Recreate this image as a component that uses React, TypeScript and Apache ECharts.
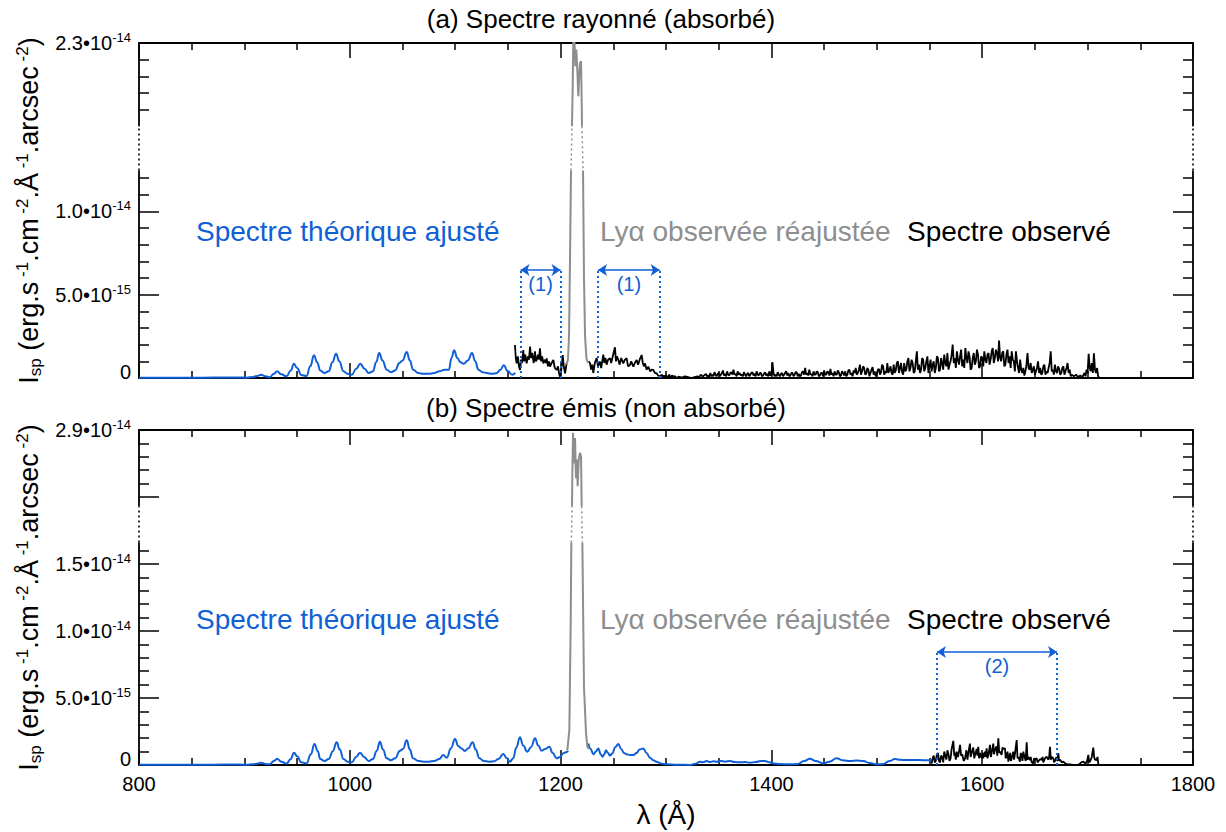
import React, { useEffect, useRef } from "react";
import * as echarts from "echarts";

type Pt = [number, number];
type Brk = { lo: number; hi: number; gap: number; max: number };

// wavelength (Å) axis
const X_MIN = 800;
const X_MAX = 1800;
const X_STEP = 200;

// intensities are in units of 1e-15 erg.s-1.cm-2.Å-1.arcsec-2
const TOP_BREAK: Brk = { lo: 12.45, hi: 18, gap: 2.65, max: 23 };
const BOT_BREAK: Brk = { lo: 16.6, hi: 23.3, gap: 2.7, max: 29 };

const TOP_LABEL_VALUES = [0, 5, 10, 23];
const TOP_LABEL_TEXT = ["{z|0}", "5.0•10{sup|-15}", "1.0•10{sup|-14}", "2.3•10{sup|-14}"];
const TOP_MAJOR_TICKS = [0, 5, 10, 23];
const TOP_MINOR_TICKS = [1, 2, 3, 4, 6, 7, 8, 9, 11, 12, 19, 20, 21, 22];

const BOT_LABEL_VALUES = [0, 5, 10, 15, 29];
const BOT_LABEL_TEXT = ["{z|0}", "5.0•10{sup|-15}", "1.0•10{sup|-14}", "1.5•10{sup|-14}", "2.9•10{sup|-14}"];
const BOT_MAJOR_TICKS = [0, 5, 10, 15, 24, 29];
const BOT_MINOR_TICKS = [1, 2, 3, 4, 6, 7, 8, 9, 11, 12, 13, 14, 16, 25, 26, 27, 28];

// fitting windows (Å) and arrow level
const TOP_WINDOWS: Pt[] = [[1162, 1200], [1235.5, 1294]];
const TOP_WINDOW_LABELS = ["(1)", "(1)"];
const TOP_WINDOW_LEVEL = 6.48;
const BOT_WINDOWS: Pt[] = [[1557, 1671]];
const BOT_WINDOW_LABELS = ["(2)"];
const BOT_WINDOW_LEVEL = 8.43;

// (a) absorbed spectrum
const theoTop: Pt[] = [
  [800, 0.02], [820, 0.02], [840, 0.02], [860, 0.02], [880, 0.03], [895, 0.03], [902, 0.02], [908, 0.06],
  [912, 0.12], [916, 0.2], [920, 0.1], [924, 0.05], [928, 0.25], [931, 0.4], [935, 0.22], [940, 0.1],
  [944, 0.45], [947, 0.86], [950, 0.6], [954, 0.18], [959, 0.12], [962.5, 0.7], [966, 1.36], [969, 0.95],
  [972, 0.45], [976, 0.3], [980, 0.4], [983.5, 0.95], [987, 1.46], [990, 1.0], [994, 0.4], [998, 0.25],
  [1002, 0.2], [1006, 0.55], [1010, 0.86], [1014, 0.55], [1018, 0.3], [1022, 0.4], [1025, 0.95], [1028, 1.5],
  [1031, 1.05], [1035, 0.5], [1039, 0.35], [1043, 0.45], [1047, 0.9], [1050, 1.05], [1054, 1.56], [1057, 1.05],
  [1060, 0.5], [1065, 0.3], [1070, 0.25], [1075, 0.25], [1080, 0.3], [1085, 0.4], [1090, 0.5], [1094, 0.5],
  [1096.5, 1.2], [1099, 1.66], [1102, 1.2], [1105, 0.95], [1108, 0.85], [1112, 1.05], [1116, 1.5], [1119, 1.0],
  [1122, 0.5], [1126, 0.35], [1130, 0.3], [1135, 0.25], [1139, 0.28], [1143, 0.5], [1146, 0.76], [1150, 0.4],
  [1154, 0.2], [1157, 0.3],
];
const obsTopLeft: Pt[] = [
  [1156.7, 1.98], [1157.5, 1.2], [1158.3, 0.88], [1159.5, 1.3], [1160.5, 0.7], [1161.5, 0.48], [1162.5, 1.1],
  [1163.5, 0.9], [1164.6, 1.68], [1165.5, 1.0], [1166.5, 1.4], [1167.8, 0.88], [1169, 1.3], [1170, 1.1],
  [1171, 1.88], [1172, 1.2], [1173, 1.5], [1174.5, 0.9], [1175.7, 1.6], [1176.5, 1.0], [1177.3, 1.08],
  [1178.5, 1.4], [1179.5, 1.1], [1180.4, 1.78], [1181.5, 1.0], [1182.5, 1.3], [1183.6, 0.88], [1185, 1.1],
  [1186, 0.9], [1186.8, 1.18], [1188, 0.7], [1189, 1.0], [1190, 0.68], [1191.5, 0.9], [1193.1, 1.08],
  [1194.5, 0.6], [1196.3, 0.48], [1197.5, 0.7], [1198.5, 0.3], [1199.4, 0.08], [1200.5, 0.4], [1201.2, 0.9],
  [1202, 1.38], [1203, 0.7], [1204.2, 0.28], [1205, 0.6], [1205.7, 0.88],
];
const lyaTop: Pt[] = [
  [1205.5, 0.8], [1207, 1.1], [1208, 2.5], [1208.9, 7], [1209.9, 12.5], [1210.8, 18], [1211.5, 20.4],
  [1212.1, 23.6], [1213, 23.4], [1214, 21.6], [1214.9, 22.6], [1215.9, 21.3], [1216.8, 19.8], [1217.8, 21.2],
  [1218.4, 21.8], [1219.4, 21.9], [1220, 19.5], [1220.3, 18], [1221.3, 12.3], [1222.2, 6], [1223.2, 2.5],
  [1224.5, 1.2], [1226, 0.9],
];
const obsTopRight: Pt[] = [
  [1226.5, 1.0], [1227.9, 0.9], [1229, 0.5], [1230, 0.8], [1231, 0.3], [1232.5, 0.9], [1234.2, 1.2], [1235.5, 0.7],
  [1237.4, 0.98], [1238.5, 0.6], [1240.5, 1.4], [1241.5, 0.9], [1242.5, 1.2], [1243.7, 0.8], [1245, 1.1],
  [1246.9, 1.18], [1248, 0.9], [1249.5, 1.3], [1251.6, 1.84], [1252.5, 1.0], [1253.5, 1.3], [1254.8, 1.08],
  [1256, 0.8], [1257.5, 1.2], [1259.5, 0.88], [1261, 1.1], [1262.7, 1.18], [1264, 0.7], [1265.8, 0.78],
  [1267, 1.0], [1269, 0.68], [1270.5, 0.9], [1272.2, 1.08], [1273.5, 0.8], [1275, 1.1], [1276.9, 1.38],
  [1278, 0.9], [1279, 0.7], [1280.1, 0.88], [1281.5, 0.5], [1283.2, 0.68], [1285, 0.4], [1286.5, 0.5],
  [1288, 0.48], [1289.5, 0.3], [1291.1, 0.28], [1292.5, 0.15], [1294.3, 0.1],
  [1296, 0.2], [1297, 0.05], [1298, 0.15], [1299, 0.02], [1300, 0.15], [1301, 0.05], [1302, 0.1], [1303, 0.2],
  [1304, 0.05], [1306, 0.15], [1307, 0.02], [1308, 0.12], [1310, 0.0], [1312, 0.08], [1315, 0.02], [1318, 0.1],
  [1321, 0.05], [1324, 0.0], [1327, 0.05], [1330, 0.1], [1331, 0.02], [1333, 0.2], [1335, 0.08], [1336, 0.15],
  [1338, 0.25], [1339, 0.1], [1340, 0.15], [1341, 0.05], [1342, 0.3], [1343, 0.1], [1344, 0.2], [1345, 0.1],
  [1346, 0.35], [1347, 0.2], [1348, 0.1], [1349, 0.25], [1350, 0.3], [1351, 0.1], [1352, 0.2], [1353, 0.3],
  [1354, 0.45], [1355, 0.15], [1356, 0.25], [1357, 0.1], [1358, 0.4], [1359, 0.2], [1360, 0.15], [1361, 0.3],
  [1362, 0.35], [1363, 0.2], [1364, 0.5], [1365, 0.2], [1366, 0.25], [1367, 0.1], [1368, 0.4], [1369, 0.2],
  [1370, 0.3], [1371, 0.15], [1372, 0.2], [1373, 0.1], [1374, 0.35], [1375, 0.2], [1376, 0.1], [1377, 0.25],
  [1378, 0.3], [1379, 0.1], [1380, 0.2], [1381, 0.3], [1382, 0.35], [1383, 0.15], [1384, 0.25], [1385, 0.1],
  [1386, 0.4], [1387, 0.2], [1388, 0.15], [1389, 0.3], [1390, 0.3], [1391, 0.1], [1392, 0.15], [1393, 0.25],
  [1394, 0.35], [1395, 0.15], [1396, 0.25], [1397, 0.1], [1398, 0.4], [1399, 0.15], [1400, 0.2], [1401, 0.95],
  [1402, 0.3], [1403, 0.1], [1404, 0.2], [1405, 0.1], [1406, 0.35], [1407, 0.2], [1408, 0.1], [1409, 0.25],
  [1410, 0.3], [1411, 0.1], [1412, 0.2], [1413, 0.3], [1414, 0.4], [1415, 0.15], [1416, 0.3], [1417, 0.1],
  [1418, 0.15], [1419, 0.3], [1420, 0.3], [1421, 0.1], [1422, 0.2], [1423, 0.35], [1424, 0.35], [1425, 0.1],
  [1426, 0.25], [1427, 0.1], [1428, 0.15], [1429, 0.35], [1430, 0.4], [1431, 0.2], [1432, 0.6], [1433, 0.2],
  [1434, 0.3], [1435, 0.15], [1436, 0.5], [1437, 0.2], [1438, 0.25], [1439, 0.1], [1440, 0.4], [1441, 0.2],
  [1442, 0.2], [1443, 0.4], [1444, 0.35], [1445, 0.1], [1446, 0.15], [1447, 0.3], [1448, 0.3], [1449, 0.1],
  [1450, 0.45], [1451, 0.2], [1452, 0.2], [1453, 0.4], [1454, 0.35], [1455, 0.15], [1456, 0.55], [1457, 0.2],
  [1458, 0.3], [1459, 0.1], [1460, 0.4], [1461, 0.2], [1462, 0.2], [1463, 0.45], [1464, 0.35], [1465, 0.1],
  [1466, 0.15], [1467, 0.4], [1468, 0.3], [1469, 0.15], [1470, 0.4], [1471, 0.1], [1472, 0.2], [1473, 0.45],
  [1474, 0.5], [1475, 0.2], [1476, 0.3], [1477, 0.1], [1478, 0.45], [1479, 0.3], [1480, 0.6], [1481, 0.2],
  [1482, 0.3], [1483, 0.5], [1484, 0.8], [1485, 0.2], [1486, 0.4], [1487, 0.7], [1488, 0.6], [1489, 0.2],
  [1490, 0.25], [1491, 0.6], [1492, 0.5], [1493, 0.1], [1494, 0.3], [1495, 0.5], [1496, 0.65], [1497, 0.2],
  [1498, 0.4], [1499, 0.1], [1500, 0.2], [1501, 0.5], [1502, 0.55], [1503, 0.2], [1504, 0.35], [1505, 0.8],
  [1506, 0.7], [1507, 0.2], [1508, 0.4], [1509, 0.3], [1510, 0.9], [1511, 0.3], [1512, 0.5], [1513, 0.7],
  [1514, 0.3], [1515, 0.2], [1516, 0.8], [1517, 0.3], [1518, 0.45], [1519, 0.9], [1520, 1.0], [1521, 0.3],
  [1522, 0.6], [1523, 0.9], [1524, 0.35], [1525, 0.2], [1526, 0.9], [1527, 0.4], [1528, 0.5], [1529, 1.0],
  [1530, 1.2], [1531, 0.4], [1532, 0.6], [1533, 1.1], [1534, 0.9], [1535, 0.3], [1536, 0.4], [1537, 1.0],
  [1538, 1.6], [1539, 0.5], [1540, 0.8], [1541, 0.3], [1542, 0.5], [1543, 1.2], [1544, 1.1], [1545, 0.4],
  [1546, 0.6], [1547, 1.0], [1548, 1.3], [1549, 0.3], [1550, 0.7], [1551, 1.1], [1552, 0.4], [1553, 0.8],
  [1554, 1.0], [1555, 0.3], [1556, 0.6], [1557, 1.3], [1558, 1.2], [1559, 0.4], [1560, 0.5], [1561, 1.2],
  [1562, 0.9], [1563, 0.5], [1564, 1.4], [1565, 0.9], [1566, 0.7], [1567, 1.5], [1568, 0.5], [1569, 0.8],
  [1570, 1.0], [1571, 1.4], [1572, 2.0], [1573, 0.9], [1574, 1.2], [1575, 0.6], [1576, 1.6], [1577, 1.1],
  [1578, 0.8], [1579, 1.3], [1580, 1.7], [1581, 0.7], [1582, 1.1], [1583, 0.6], [1584, 1.8], [1585, 1.2],
  [1586, 0.9], [1587, 1.6], [1588, 1.3], [1589, 0.5], [1590, 0.6], [1591, 1.2], [1592, 1.5], [1593, 0.8],
  [1594, 1.0], [1595, 1.7], [1596, 1.4], [1597, 0.6], [1598, 0.7], [1599, 1.3], [1600, 1.2], [1601, 0.7],
  [1602, 1.6], [1603, 1.1], [1604, 0.9], [1605, 1.4], [1606, 1.5], [1607, 0.8], [1608, 1.1], [1609, 1.6],
  [1610, 1.8], [1611, 0.9], [1612, 1.2], [1613, 1.7], [1614, 1.5], [1615, 1.0], [1616, 2.25], [1617, 1.2],
  [1618, 1.0], [1619, 1.5], [1620, 1.6], [1621, 0.7], [1622, 0.8], [1623, 1.4], [1624, 1.7], [1625, 0.9],
  [1626, 1.3], [1627, 0.6], [1628, 1.6], [1629, 1.1], [1630, 1.0], [1631, 0.4], [1632, 1.6], [1633, 1.0],
  [1634, 0.6], [1635, 0.3], [1636, 1.1], [1637, 0.5], [1638, 0.3], [1639, 0.6], [1640, 0.15], [1641, 0.4],
  [1642, 0.8], [1643, 1.5], [1644, 0.6], [1645, 0.5], [1646, 0.9], [1647, 0.3], [1648, 0.5], [1649, 0.7],
  [1650, 0.2], [1651, 0.4], [1652, 0.6], [1653, 1.0], [1654, 0.3], [1655, 0.6], [1656, 0.2], [1657, 0.3],
  [1658, 0.7], [1659, 0.8], [1660, 0.2], [1661, 0.4], [1662, 0.3], [1663, 0.6], [1664, 0.9], [1665, 1.6],
  [1666, 0.4], [1667, 0.5], [1668, 0.2], [1669, 0.8], [1670, 0.4], [1671, 0.3], [1672, 0.7], [1673, 0.55],
  [1674, 0.2], [1675, 0.3], [1676, 0.6], [1677, 0.7], [1678, 0.2], [1679, 0.4], [1680, 0.6], [1681, 0.9],
  [1682, 0.3], [1683, 0.5], [1684, 0.1], [1685, 0.2], [1687, 0.1], [1689, 0.2], [1691, 0.05], [1693, 0.15],
  [1695, 0.05], [1697, 0.3], [1698, 0.1], [1699, 0.5], [1700, 0.3], [1701, 1.45], [1702, 0.6], [1703, 0.4],
  [1704, 0.9], [1705, 0.3], [1706, 1.48], [1707, 0.5], [1708, 0.3], [1709, 0.6], [1710, 0.1], [1711, 0.05],
];

// (b) emitted (non absorbed) spectrum
const theoBotLeft: Pt[] = [
  [800, 0.02], [820, 0.02], [840, 0.02], [860, 0.02], [880, 0.03], [895, 0.03], [902, 0.02], [908, 0.06],
  [912, 0.1], [916, 0.17], [920, 0.08], [924, 0.05], [928, 0.3], [931, 0.47], [935, 0.25], [940, 0.1],
  [944, 0.45], [947, 0.92], [950, 0.65], [954, 0.2], [959, 0.12], [963, 0.8], [966.5, 1.56], [969.5, 1.05],
  [972, 0.45], [976, 0.3], [980, 0.45], [984, 1.05], [987.5, 1.7], [990.5, 1.15], [994, 0.45], [998, 0.25],
  [1002, 0.2], [1006, 0.6], [1009.7, 0.92], [1013.5, 0.6], [1018, 0.3], [1022, 0.45], [1025.5, 1.05],
  [1028.6, 1.74], [1031.5, 1.15], [1035, 0.5], [1039, 0.35], [1043, 0.5], [1047.6, 1.07], [1050.5, 1.2],
  [1054, 1.84], [1057, 1.15], [1060, 0.5], [1065, 0.3], [1070, 0.25], [1075, 0.25], [1080, 0.3], [1085, 0.45],
  [1088.7, 0.74], [1092, 0.55], [1096, 1.25], [1099.8, 1.94], [1103, 1.4], [1106.1, 1.24], [1109, 1.05],
  [1112.5, 1.25], [1116.5, 1.7], [1119.5, 1.15], [1123, 0.5], [1127, 0.3], [1132, 0.25], [1137, 0.28],
  [1141, 0.45], [1145.6, 0.82], [1149, 0.5], [1152, 0.25], [1155, 0.5], [1158, 1.3], [1161.4, 2.08],
  [1164.5, 1.45], [1168.4, 0.99], [1172, 1.35], [1175.7, 1.99], [1178.8, 1.45], [1182, 1.07], [1185.5, 1.2],
  [1189.3, 1.36], [1192.5, 0.9], [1196.2, 0.5], [1199.5, 0.6], [1202.6, 0.87], [1205, 0.95], [1207.3, 1.04],
];
const lyaBot: Pt[] = [
  [1206.4, 1.1], [1208.3, 2.6], [1209.6, 10.8], [1210.2, 16.7], [1210.8, 23.4], [1211, 24.5], [1211.1, 25.4],
  [1211.8, 28.8], [1212.7, 26.5], [1213.7, 28.4], [1214.6, 25.4], [1215.3, 26.8], [1216.2, 24.8],
  [1217.2, 26.8], [1218.4, 27.3], [1219.4, 27.0], [1220, 23.3], [1220.6, 16.8], [1222.2, 5.8], [1224.1, 2.4],
  [1225.3, 1.4], [1226.3, 1.2],
];
const theoBotRight: Pt[] = [
  [1226.3, 1.6], [1228.5, 1.2], [1231, 0.8], [1233.5, 1.0], [1235.8, 1.24], [1238, 0.8], [1239.9, 0.62],
  [1241.5, 0.8], [1243, 1.1], [1245, 0.9], [1246.8, 0.7], [1249, 0.85], [1252, 1.35], [1254.7, 1.56],
  [1257.5, 1.2], [1260, 0.9], [1262.7, 0.8], [1266, 0.75], [1269, 0.74], [1272, 0.9], [1275, 1.15],
  [1278.5, 1.24], [1281.5, 0.9], [1284.8, 0.55], [1288, 0.35], [1291.1, 0.25], [1295, 0.12], [1300.6, 0.05],
  [1310, 0.02], [1322.7, 0.0], [1328, 0.1], [1332.2, 0.25], [1335, 0.2], [1338.6, 0.3], [1342, 0.22],
  [1345, 0.28], [1348, 0.25], [1352, 0.3], [1356, 0.25], [1360.7, 0.3], [1365, 0.22], [1370.2, 0.2],
  [1375, 0.22], [1379.7, 0.17], [1385, 0.22], [1390, 0.3], [1393.9, 0.3], [1398, 0.2], [1401.8, 0.12],
  [1408, 0.08], [1417.6, 0.05], [1425, 0.08], [1431, 0.3], [1436.6, 0.47], [1442, 0.3], [1449.2, 0.12],
  [1455, 0.25], [1461.9, 0.5], [1468, 0.35], [1474.6, 0.3], [1481, 0.33], [1487.2, 0.3], [1493, 0.15],
  [1499.9, 0.05], [1506.2, 0.07], [1512, 0.3], [1517.2, 0.45], [1521, 0.4], [1525.2, 0.37], [1531, 0.38],
  [1537.8, 0.37], [1544, 0.36], [1550.5, 0.35], [1552, 0.35],
];
const obsBot: Pt[] = [
  [1552, 0.1], [1553, 0.5], [1554, 0.7], [1555, 0.2], [1556, 0.3], [1557, 0.8], [1558, 0.9], [1559, 0.3],
  [1560, 0.2], [1561, 0.7], [1562, 0.6], [1563, 0.2], [1564, 1.0], [1565, 0.7], [1566, 0.4], [1567, 1.1],
  [1568, 0.8], [1569, 0.3], [1570, 0.5], [1571, 1.2], [1572.6, 1.8], [1573.5, 0.7], [1574, 0.9], [1575, 0.4],
  [1575.8, 1.0], [1577, 0.6], [1578, 1.0], [1579, 1.5], [1580, 0.7], [1581, 0.8], [1582.5, 0.3], [1583.7, 0.5],
  [1585, 1.1], [1586, 0.4], [1586.5, 0.7], [1587.5, 1.2], [1588.4, 1.6], [1589, 0.6], [1590, 0.9], [1591.5, 1.3],
  [1592.5, 0.5], [1593.2, 0.75], [1594.8, 1.2], [1595.5, 0.7], [1596.3, 1.36], [1597, 0.5], [1598, 0.9],
  [1599.5, 0.5], [1600.5, 0.9], [1601, 0.5], [1602.5, 1.0], [1603.2, 0.6], [1604.2, 1.25], [1605, 0.5],
  [1606, 0.8], [1607.4, 1.5], [1608.2, 0.6], [1609, 0.9], [1610.5, 1.6], [1611.2, 0.8], [1612, 1.1],
  [1613.5, 1.4], [1614.3, 0.7], [1615.3, 2.0], [1616.2, 0.9], [1617, 1.0], [1618.4, 0.75], [1619.2, 1.3],
  [1620, 1.2], [1621.6, 1.25], [1622.3, 0.5], [1623, 0.6], [1624, 1.0], [1624.8, 0.25], [1625.7, 0.6],
  [1626.5, 0.9], [1627.2, 0.3], [1628, 0.5], [1629.5, 1.0], [1630.2, 0.4], [1631, 0.8], [1632.7, 1.86],
  [1633.5, 0.5], [1634.3, 0.6], [1635.8, 0.25], [1636.6, 0.9], [1637.5, 0.7], [1638.2, 0.3], [1639, 1.0],
  [1640.5, 0.5], [1641.3, 0.3], [1642.2, 1.7], [1643, 0.4], [1643.8, 0.6], [1645.3, 0.37], [1646, 0.6],
  [1647, 0.2], [1648.5, 0.12], [1649.2, 0.5], [1650, 0.4], [1651.7, 0.5], [1652.5, 0.2], [1653.5, 0.3],
  [1655, 0.45], [1656.4, 0.37], [1657.2, 0.6], [1658, 0.2], [1659.5, 0.5], [1661.1, 0.62], [1662.7, 0.4],
  [1663.5, 0.6], [1664.3, 1.36], [1665.1, 0.4], [1665.9, 0.6], [1667.5, 0.5], [1668.2, 0.2], [1669, 0.3],
  [1670.5, 0.6], [1671.3, 0.3], [1672.2, 0.87], [1673, 0.3], [1674, 0.4], [1675.5, 0.2], [1677, 0.25],
  [1679, 0.1], [1681, 0.05], [1683.3, 0.05], [1686, 0.0], [1689.6, 0.0], [1692, 0.05], [1694, 0.2], [1696, 0.25],
  [1698, 0.1], [1699.5, 0.3], [1700.7, 0.75], [1701.5, 0.2], [1702.5, 0.3], [1704, 0.6], [1705.4, 1.3],
  [1706.2, 0.6], [1707, 0.4], [1708.6, 0.37], [1709.4, 0.6], [1710.2, 0.05],
];

const TITLES = ["(a) Spectre rayonné (absorbé)", "(b) Spectre émis (non absorbé)"];
const NOTE_THEO = "Spectre théorique ajusté";
const NOTE_LYA = "Lyα observée réajustée";
const NOTE_OBS = "Spectre observé";
const X_NAME = "λ (Å)";
const Y_NAME = "{m|I}{sub|sp}{m| (erg.s}{sup| -1}{m|.cm}{sup| -2}{m|.Å}{sup| -1}{m|.arcsec}{sup| -2}{m|)}";

const FONT = '"Liberation Sans", Arial, Helvetica, sans-serif';
const BLUE = "#0f5fd6";
const GRAY = "#8e8e8e";
const BLACK = "#000000";

const T = (v: number, b: Brk) =>
  v <= b.lo ? v : v >= b.hi ? v - (b.hi - b.lo) + b.gap : b.lo + ((v - b.lo) / (b.hi - b.lo)) * b.gap;

function splitBreak(pts: Pt[], b: Brk) {
  const solid: any[] = [];
  const dotted: any[] = [];
  let last: any[] | null = null;
  for (let i = 0; i < pts.length - 1; i++) {
    const [x0, v0] = pts[i];
    const [x1, v1] = pts[i + 1];
    const ts = [0, 1];
    [b.lo, b.hi].forEach((c) => {
      if ((v0 - c) * (v1 - c) < 0) ts.push((c - v0) / (v1 - v0));
    });
    ts.sort((a, c) => a - c);
    for (let k = 0; k < ts.length - 1; k++) {
      const ta = ts[k], tb = ts[k + 1];
      const xa = x0 + (x1 - x0) * ta, va = v0 + (v1 - v0) * ta;
      const xb = x0 + (x1 - x0) * tb, vb = v0 + (v1 - v0) * tb;
      const vm = (va + vb) / 2;
      const target = vm > b.lo && vm < b.hi ? dotted : solid;
      if (last && last !== target) last.push(["-", "-"]);
      target.push([xa, T(va, b)], [xb, T(vb, b)]);
      last = target;
    }
  }
  return { solid, dotted };
}

const tr = (pts: Pt[], b: Brk) => pts.map(([x, v]) => [x, T(v, b)]);

function windowMarks(wins: Pt[], labels: string[], level: number) {
  const data: any[] = [];
  wins.forEach(([a, c], i) => {
    [a, c].forEach((x) => {
      data.push([
        { coord: [x, 0], symbol: "none", lineStyle: { type: [2, 3], width: 2, color: BLUE } },
        { coord: [x, level], symbol: "none" },
      ]);
    });
    data.push([
      {
        coord: [a, level],
        symbol: "arrow",
        lineStyle: { type: "solid", width: 1.5, color: BLUE },
        label: {
          show: true,
          formatter: labels[i],
          position: "insideMiddleBottom",
          distance: 4,
          color: BLUE,
          fontSize: 20,
          fontFamily: FONT,
        },
      },
      { coord: [c, level], symbol: "arrow" },
    ]);
  });
  return {
    silent: true,
    animation: false,
    symbolSize: 9,
    label: { show: false },
    emphasis: { disabled: true },
    data,
  };
}

function xAxes(grid: number, labels: boolean) {
  const base = {
    type: "value",
    gridIndex: grid,
    min: X_MIN,
    max: X_MAX,
    interval: X_STEP,
    splitLine: { show: false },
    minorSplitLine: { show: false },
    axisTick: { show: true, inside: true, length: 15, lineStyle: { color: BLACK, width: 1.5 } },
    minorTick: { show: true, splitNumber: 4, length: 7, lineStyle: { color: BLACK, width: 1.5 } },
    axisLine: { show: true, onZero: false, lineStyle: { color: BLACK, width: 1.8 } },
  };
  return [
    {
      ...base,
      position: "bottom",
      axisLabel: {
        show: labels,
        fontSize: 20,
        color: BLACK,
        fontFamily: FONT,
        margin: 9,
        formatter: (v: number) => String(v),
      },
      ...(labels
        ? {
            name: X_NAME,
            nameLocation: "middle",
            nameGap: 35,
            nameTextStyle: { fontSize: 28, color: BLACK, fontFamily: FONT },
          }
        : {}),
    },
    { ...base, position: "top", axisLabel: { show: false } },
  ];
}

function yAxes(grid: number, b: Brk, labelVals: number[], labelTexts: string[], majors: number[], minors: number[]) {
  const maxD = T(b.max, b);
  const tickStyle = { color: BLACK, width: 1.5 };
  const base = {
    type: "value",
    gridIndex: grid,
    min: 0,
    max: maxD,
    splitLine: { show: false },
    axisLine: { show: false, onZero: false },
    axisLabel: { show: false },
  };
  const fmt = (val: number) => {
    const i = labelVals.findIndex((v) => Math.abs(T(v, b) - val) < 1e-6);
    return i >= 0 ? labelTexts[i] : "";
  };
  const major = (pos: string) => ({
    ...base,
    position: pos,
    axisLine: { show: true, onZero: false, lineStyle: { color: BLACK, width: 1.8 } },
    axisTick: { show: true, inside: true, length: 20, lineStyle: tickStyle, customValues: majors.map((v) => T(v, b)) },
  });
  const minor = (pos: string) => ({
    ...base,
    position: pos,
    axisTick: { show: true, inside: true, length: 10, lineStyle: tickStyle, customValues: minors.map((v) => T(v, b)) },
  });
  return [
    {
      ...major("left"),
      axisLabel: {
        show: true,
        customValues: labelVals.map((v) => T(v, b)),
        formatter: fmt,
        fontSize: 20,
        lineHeight: 24,
        color: BLACK,
        fontFamily: FONT,
        margin: 8,
        rich: {
          sup: { fontSize: 13, lineHeight: 13, verticalAlign: "top", color: BLACK, fontFamily: FONT },
          z: { fontSize: 20, lineHeight: 20, padding: [0, 0, 12, 0], color: BLACK, fontFamily: FONT },
        },
      },
      name: Y_NAME,
      nameLocation: "middle",
      nameRotate: 90,
      nameGap: 87,
      nameTextStyle: {
        color: BLACK,
        fontFamily: FONT,
        rich: {
          m: { fontSize: 27, lineHeight: 30, verticalAlign: "middle", color: BLACK, fontFamily: FONT },
          sup: { fontSize: 17, lineHeight: 17, verticalAlign: "top", color: BLACK, fontFamily: FONT },
          sub: { fontSize: 17, lineHeight: 17, verticalAlign: "bottom", color: BLACK, fontFamily: FONT },
        },
      },
    },
    minor("left"),
    major("right"),
    minor("right"),
  ];
}

function lineSeries(data: any[], xi: number, yi: number, color: string, width: number, extra: any = {}) {
  return {
    type: "line",
    xAxisIndex: xi,
    yAxisIndex: yi,
    data,
    showSymbol: false,
    symbol: "none",
    silent: true,
    lineStyle: { color, width },
    ...extra,
  };
}

const SMOOTH = { smooth: 0.45, smoothMonotone: "x" };

function noteText(text: string, x: number, y: number, color: string) {
  return {
    type: "text",
    x,
    y,
    z: 50,
    style: { text, fill: color, fontSize: 28, fontFamily: FONT, textAlign: "left", textVerticalAlign: "middle" },
  };
}

export default function App() {
  const ref = useRef<HTMLDivElement>(null);
  useEffect(() => {
    if (!ref.current) return;
    const chart = echarts.init(ref.current, null, { renderer: "svg" });
    const lyaT = splitBreak(lyaTop, TOP_BREAK);
    const lyaB = splitBreak(lyaBot, BOT_BREAK);
    const option: any = {
      animation: false,
      backgroundColor: "#ffffff",
      grid: [
        { left: 139, top: 43, width: 1054, height: 335 },
        { left: 139, top: 430, width: 1054, height: 335 },
      ],
      xAxis: [...xAxes(0, false), ...xAxes(1, true)],
      yAxis: [
        ...yAxes(0, TOP_BREAK, TOP_LABEL_VALUES, TOP_LABEL_TEXT, TOP_MAJOR_TICKS, TOP_MINOR_TICKS),
        ...yAxes(1, BOT_BREAK, BOT_LABEL_VALUES, BOT_LABEL_TEXT, BOT_MAJOR_TICKS, BOT_MINOR_TICKS),
      ],
      series: [
        lineSeries(tr(theoTop, TOP_BREAK), 0, 0, BLUE, 2, {
          ...SMOOTH,
          markLine: windowMarks(TOP_WINDOWS, TOP_WINDOW_LABELS, TOP_WINDOW_LEVEL),
        }),
        lineSeries(tr(obsTopLeft, TOP_BREAK), 0, 0, BLACK, 1.8),
        lineSeries(tr(obsTopRight, TOP_BREAK), 0, 0, BLACK, 1.8),
        lineSeries(lyaT.solid, 0, 0, GRAY, 2),
        lineSeries(lyaT.dotted, 0, 0, GRAY, 1.5, { lineStyle: { color: GRAY, width: 1.5, type: [2, 3] } }),
        lineSeries(tr(theoBotLeft, BOT_BREAK), 2, 4, BLUE, 2, {
          ...SMOOTH,
          markLine: windowMarks(BOT_WINDOWS, BOT_WINDOW_LABELS, BOT_WINDOW_LEVEL),
        }),
        lineSeries(tr(theoBotRight, BOT_BREAK), 2, 4, BLUE, 2, { ...SMOOTH }),
        lineSeries(tr(obsBot, BOT_BREAK), 2, 4, BLACK, 1.8),
        lineSeries(lyaB.solid, 2, 4, GRAY, 2),
        lineSeries(lyaB.dotted, 2, 4, GRAY, 1.5, { lineStyle: { color: GRAY, width: 1.5, type: [2, 3] } }),
      ],
    };
    chart.setOption(option);

    const graphics: any[] = [
      {
        type: "text",
        x: 601,
        y: 19,
        style: { text: TITLES[0], fill: BLACK, fontSize: 26, fontFamily: FONT, textAlign: "center", textVerticalAlign: "middle" },
      },
      {
        type: "text",
        x: 606,
        y: 408,
        style: { text: TITLES[1], fill: BLACK, fontSize: 26, fontFamily: FONT, textAlign: "center", textVerticalAlign: "middle" },
      },
      noteText(NOTE_THEO, 196, 231, BLUE),
      noteText(NOTE_LYA, 600, 231, GRAY),
      noteText(NOTE_OBS, 907, 231, BLACK),
      noteText(NOTE_THEO, 196, 619, BLUE),
      noteText(NOTE_LYA, 600, 619, GRAY),
      noteText(NOTE_OBS, 907, 619, BLACK),
    ];
    // axis breaks: dotted segments on left and right frame lines
    const panels = [
      { xi: 0, yi: 0, b: TOP_BREAK },
      { xi: 2, yi: 4, b: BOT_BREAK },
    ];
    panels.forEach(({ xi, yi, b }) => {
      const yLo = chart.convertToPixel({ yAxisIndex: yi } as any, b.lo) as number;
      const yHi = chart.convertToPixel({ yAxisIndex: yi } as any, b.lo + b.gap) as number;
      [X_MIN, X_MAX].forEach((xv) => {
        const xp = chart.convertToPixel({ xAxisIndex: xi } as any, xv) as number;
        graphics.push({
          type: "line",
          z: 100,
          shape: { x1: xp, y1: yLo, x2: xp, y2: yHi },
          style: { stroke: "#ffffff", lineWidth: 4 },
        });
        graphics.push({
          type: "line",
          z: 101,
          shape: { x1: xp, y1: yLo, x2: xp, y2: yHi },
          style: { stroke: BLACK, lineWidth: 1.6, lineDash: [2, 3] },
        });
      });
    });
    chart.setOption({ graphic: graphics });
    return () => chart.dispose();
  }, []);
  return <div ref={ref} style={{ position: "absolute", left: 0, top: 0, width: 1226, height: 832 }} />;
}
